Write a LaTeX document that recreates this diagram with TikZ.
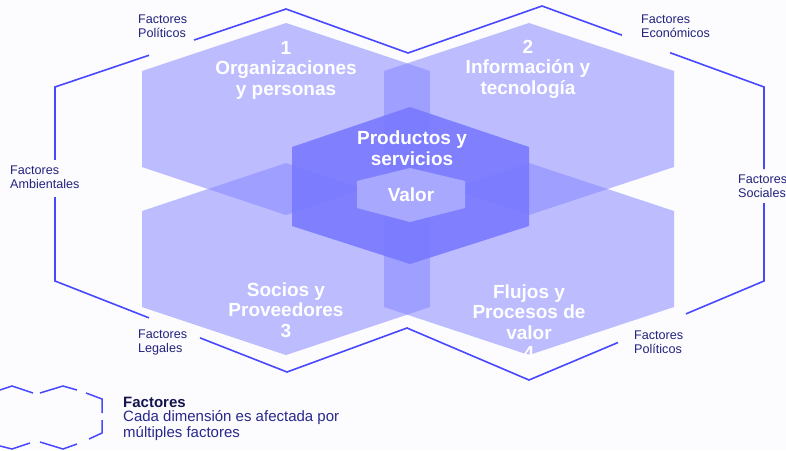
\documentclass[tikz,border=0pt]{standalone}
\usepackage{fontspec}
\setmainfont{Liberation Sans}
\usetikzlibrary{calc}
\definecolor{bgc}{RGB}{252,252,255}
\definecolor{hexc}{RGB}{135,135,255}
\definecolor{centc}{RGB}{118,118,255}
\definecolor{valc}{RGB}{168,168,255}
\definecolor{framec}{RGB}{72,72,255}
\definecolor{labc}{RGB}{35,35,125}
\definecolor{legb}{RGB}{20,20,80}
\definecolor{legt}{RGB}{40,40,140}
\tikzset{
  bighex/.style={fill=hexc,fill opacity=0.54,draw=none},
  centhex/.style={fill=centc,fill opacity=0.85,draw=none},
  valhex/.style={fill=valc,draw=none},
  hextitle/.style={text=white,align=center,inner sep=0pt,font=\bfseries\fontsize{19}{20.5}\selectfont},
  framel/.style={draw=framec,line width=1.6pt,line join=miter},
  legl/.style={draw=framec,line width=1.5pt,line join=miter},
  flabel/.style={text=labc,align=left,anchor=west,inner sep=0pt,font=\fontsize{12.6}{14}\selectfont}
}
\begin{document}
\begin{tikzpicture}[x=1pt,y=-1pt]
\useasboundingbox (0,0) rectangle (786,450);
\fill[bgc] (0,0) rectangle (786,450);
% big hexagons
\path[bighex] (286,23) -- (430,71) -- (430,167) -- (286,215) -- (142,167) -- (142,71) -- cycle;
\path[bighex] (529,23) -- (674,71) -- (674,167) -- (529,215) -- (384,167) -- (384,71) -- cycle;
\path[bighex] (286,163) -- (430,211) -- (430,307) -- (286,355) -- (142,307) -- (142,211) -- cycle;
\path[bighex] (529,163) -- (674,211) -- (674,307) -- (529,355) -- (384,307) -- (384,211) -- cycle;
% centre hexagons
\path[centhex] (410,107) -- (529,147) -- (529,226) -- (410,264) -- (292,226) -- (292,147) -- cycle;
\path[valhex] (410,168) -- (465,181) -- (465,208) -- (410,222) -- (357,208) -- (357,181) -- cycle;
% titles
\node[hextitle] (t1) at (286,70) {1\\Organizaciones\\y personas};
\node[hextitle] (t2) at (528,69) {2\\Información y\\tecnología};
\node[hextitle] (t3) at (286,310) {Socios y\\Proveedores\\3};
\node[hextitle] (t4) at (529,322) {Flujos y\\Procesos de\\valor\\4};
\node[hextitle] (tp) at (412,148) {Productos y\\servicios};
\node[hextitle] (tv) at (411,195) {Valor};
% frame
\coordinate (TL) at (286,9);
\coordinate (A1) at (55,87);
\coordinate (A2) at (55,281);
\coordinate (BL) at (287,372);
\coordinate (VB) at (407,328);
\coordinate (BR) at (529,380);
\coordinate (B1) at (764,281);
\coordinate (B2) at (764,87);
\coordinate (TR) at (542,6);
\coordinate (VT) at (408,53);
\draw[framel] ($(TL)!0.398!(A1)$) -- (TL) -- (VT) -- (TR) -- ($(TR)!0.360!(B2)$);
\draw[framel] ($(B2)!0.423!(TR)$) -- (B2) -- ($(B2)!0.423!(B1)$);
\draw[framel] ($(B2)!0.598!(B1)$) -- (B1) -- ($(B1)!0.332!(BR)$);
\draw[framel] ($(B1)!0.621!(BR)$) -- (BR) -- (VB) -- (BL) -- ($(A2)!0.625!(BL)$);
\draw[framel] ($(A2)!0.405!(BL)$) -- (A2) -- ($(A2)!0.433!(A1)$);
\draw[framel] ($(A1)!0.376!(A2)$) -- (A1) -- ($(TL)!0.593!(A1)$);
% factor labels
\node[flabel] (f1) at (138,26) {Factores\\Políticos};
\node[flabel] (f2) at (641,26) {Factores\\Económicos};
\node[flabel] (f3) at (10,177) {Factores\\Ambientales};
\node[flabel] (f4) at (738,186) {Factores\\Sociales};
\node[flabel] (f5) at (138,342) {Factores\\Legales};
\node[flabel] (f6) at (634,342) {Factores\\Políticos};
% legend
\draw[legl] (0,390) -- (12,386) -- (33,393);
\draw[legl] (40,393) -- (63,386) -- (77,390);
\draw[legl] (86,393) -- (102,399) -- (102,413);
\draw[legl] (102,420) -- (102,433) -- (89,439);
\draw[legl] (77,444) -- (63,449) -- (40,442);
\draw[legl] (30,443) -- (12,449) -- (0,446);
\node[anchor=west,inner sep=0pt,text=legb,font=\bfseries\fontsize{15}{16}\selectfont] (lg1) at (123,402) {Factores};
\node[anchor=west,inner sep=0pt,text=legt,align=left,font=\fontsize{15}{16}\selectfont] (lg2) at (123,426) {Cada dimensión es afectada por\\múltiples factores};
\end{tikzpicture}
\end{document}
